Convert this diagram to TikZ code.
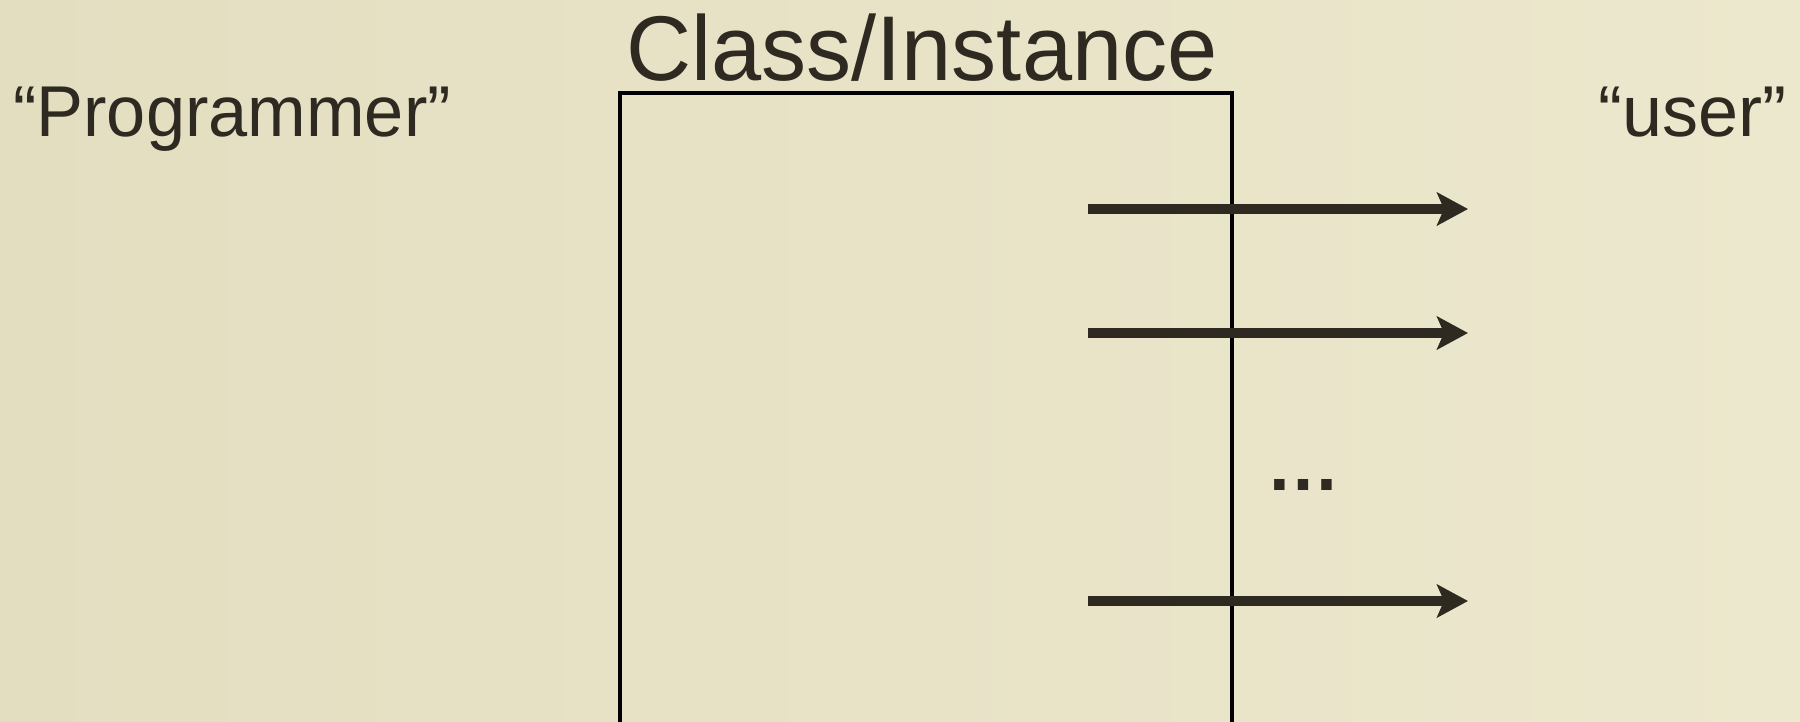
\documentclass[tikz,border=0pt]{standalone}
\usepackage{fontspec}
\setmainfont{Liberation Sans}
\usetikzlibrary{arrows.meta}
\definecolor{bgl}{RGB}{228,222,193}
\definecolor{bgr}{RGB}{236,232,205}
\definecolor{ink}{RGB}{46,42,34}
\tikzset{
  lbl/.style={anchor=base west, inner sep=0pt, text=ink},
  bigtxt/.style={lbl, font=\fontsize{72}{78}\selectfont},
  titletxt/.style={lbl, font=\fontsize{92}{98}\selectfont, xscale=0.98},
  framebox/.style={draw=black, line width=3.5pt},
  flow/.style={draw=ink, line width=10pt, -{Stealth[length=31pt, width=33pt, inset=7pt]}}
}
\begin{document}
\begin{tikzpicture}[x=1pt, y=-1pt]
\useasboundingbox (0,0) rectangle (1800,721);
\shade[left color=bgl, right color=bgr] (0,0) rectangle (1800,721);
\clip (0,0) rectangle (1800,721);
% texts
\node[titletxt] (title) at (626,80) {Class/Instance};
\node[bigtxt, xscale=0.977] (prog) at (13,136) {“Programmer”};
\node[bigtxt] (user) at (1598,136) {“user”};
\node[bigtxt, font=\fontsize{74}{80}\selectfont\bfseries] (dots) at (1266,490) {…};
% box (open at bottom of the picture)
\coordinate (bl) at (620,740);
\coordinate (tl) at (620,93);
\coordinate (tr) at (1232,93);
\coordinate (br) at (1232,740);
\draw[framebox] (bl) -- (tl) -- (tr) -- (br);
% arrows
\coordinate (s1) at (1088,209); \coordinate (e1) at (1468,209);
\coordinate (s2) at (1088,333); \coordinate (e2) at (1468,333);
\coordinate (s3) at (1088,601); \coordinate (e3) at (1468,601);
\draw[flow] (s1) -- (e1);
\draw[flow] (s2) -- (e2);
\draw[flow] (s3) -- (e3);
\end{tikzpicture}
\end{document}
